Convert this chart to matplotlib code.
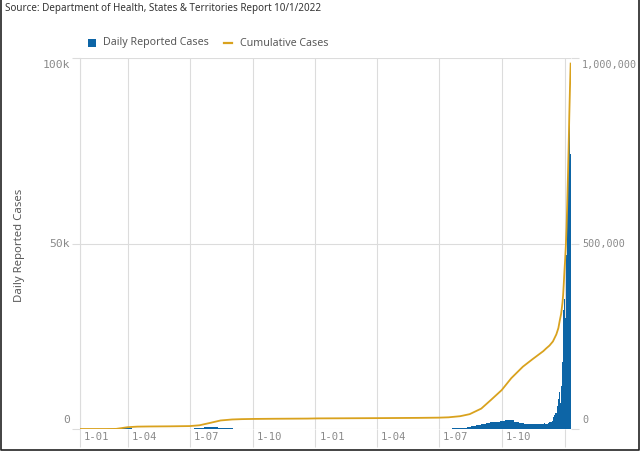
import numpy as np
import pandas as pd
import matplotlib
matplotlib.use("Agg")
import matplotlib.pyplot as plt
import matplotlib.dates as mdates
import matplotlib.transforms as mtrans
from matplotlib.patches import Rectangle
from matplotlib.lines import Line2D

# ---------------- data ----------------
# average daily reported cases per week (weeks starting 2020-01-22)
weekly_start = "2020-01-22"
weekly_cases = [
    1, 1, 1, 0, 1, 3, 10, 40, 200, 370, 250, 100, 40, 15, 15, 15, 12, 10, 10, 8,
    10, 20, 50, 120, 200, 320, 450, 580, 560, 400, 250, 140, 80, 50, 30, 20, 15,
    15, 12, 10, 8, 8, 8, 10, 8, 8, 10, 20, 25, 30,
    25, 15, 10, 8, 8, 10, 8, 8, 10, 12, 12, 15, 12, 10, 12, 15, 10, 10, 8, 8, 15,
    15, 10, 12, 30, 40, 50, 80, 160, 230, 340, 470, 760, 1000, 1400, 1750, 1850,
    1950, 2200, 2400, 2300, 2000, 1750, 1400, 1300, 1250, 1250,
]
# daily reported cases from 2021-12-01 to 2022-01-10
daily_start = "2021-12-01"
daily_cases = [
    1400, 1450, 1500, 1450, 1350, 1300, 1350, 1600, 1700, 1900,
    1800, 1750, 1900, 2200, 2600, 3100, 3700, 4000, 4200, 4300,
    5200, 6300, 8000, 9500, 10000, 7000, 11000, 11500, 18000, 21000, 32000,
    35000, 30000, 37000, 47000, 64000, 72000, 78000, 88000, 80000, 74000,
]
# cumulative cases
cum_dates = [
    "2020-01-22", "2020-03-01", "2020-03-15", "2020-04-01", "2020-04-15", "2020-05-01",
    "2020-06-01", "2020-07-01", "2020-07-15", "2020-08-01", "2020-08-15", "2020-09-01",
    "2020-09-15", "2020-10-01", "2020-11-01", "2020-12-01", "2020-12-20", "2021-01-05",
    "2021-02-01", "2021-04-01", "2021-06-01", "2021-07-01", "2021-07-15", "2021-08-01",
    "2021-08-15", "2021-09-01", "2021-09-15", "2021-10-01", "2021-10-15", "2021-11-01",
    "2021-11-15", "2021-12-01", "2021-12-05", "2021-12-10", "2021-12-15", "2021-12-20",
    "2021-12-23", "2021-12-25", "2021-12-27", "2021-12-29", "2021-12-30", "2021-12-31",
    "2022-01-01", "2022-01-02", "2022-01-03", "2022-01-04", "2022-01-05", "2022-01-06",
    "2022-01-07", "2022-01-08", "2022-01-09", "2022-01-10",
]
cum_cases = [
    0, 30, 300, 4900, 6400, 6800,
    7200, 7900, 10000, 17000, 23000, 25700,
    26600, 27100, 27600, 27900, 28100, 28600,
    28800, 29300, 30000, 30600, 31500, 34500,
    40000, 55000, 78000, 105000, 137000, 168000,
    188000, 210000, 217000, 225000, 236000, 255000,
    272000, 292000, 310000, 340000, 362000, 394000,
    429000, 459000, 496000, 543000, 607000, 679000,
    757000, 845000, 920000, 985000,
]

tick_dates = ["2020-01-22", "2020-04-01", "2020-07-01", "2020-10-01", "2021-01-01",
              "2021-04-01", "2021-07-01", "2021-10-01", "2022-01-01"]
tick_labels = ["1-01", "1-04", "1-07", "1-10", "1-01", "1-04", "1-07", "1-10", ""]
left_ticks = [0, 50000, 100000]
left_labels = ["0", "50k", "100k"]
right_ticks = [0, 500000, 1000000]
right_labels = ["0", "500,000", "1,000,000"]

x_start = "2020-01-22"
x_end = "2022-01-10"

# ---------------- style ----------------
BLUE = "#0d65a6"
GOLD = "#d9a21e"
GRID = "#dcdcdc"
TICKC = "#8a8a8a"
TXT = "#595959"
MONO = "DejaVu Sans Mono"
SANS = "Noto Sans"

W, H = 640, 451
fig = plt.figure(figsize=(W / 100, H / 100), dpi=100)


def fx(x):
    return x / W


def fy(y):
    return 1 - y / H


ax = fig.add_axes([fx(80), fy(429), fx(571) - fx(80), fy(58) - fy(429)])

wdates = mdates.date2num(pd.date_range(weekly_start, periods=len(weekly_cases), freq="7D"))
ddates = mdates.date2num(pd.date_range(daily_start, periods=len(daily_cases), freq="D"))
ax.bar(wdates - 0.5, weekly_cases, width=7, align="edge", color=BLUE, linewidth=0, zorder=2)
ax.bar(ddates - 0.5, daily_cases, width=1, align="edge", color=BLUE, linewidth=0, zorder=2)

x0 = mdates.date2num(pd.Timestamp(x_start))
x1 = mdates.date2num(pd.Timestamp(x_end)) + 0.5
ax.set_xlim(x0, x1)
ax.set_ylim(0, 100000)

ax2 = ax.twinx()
ax2.plot(mdates.date2num(pd.to_datetime(cum_dates)), cum_cases, color=GOLD, lw=1.3,
         solid_joinstyle="round", zorder=3)
ax2.set_ylim(0, 1000000)
ax2.set_xlim(x0, x1)

# grid / spines
for a in (ax, ax2):
    for s in a.spines.values():
        s.set_visible(False)
ax.spines["left"].set_visible(True)
ax.spines["left"].set_color(GRID)
ax.spines["left"].set_linewidth(0.8)

ax.set_xticks(mdates.date2num(pd.to_datetime(tick_dates)))
ax.set_xticklabels(tick_labels, fontfamily=MONO, fontsize=7.6, color=TICKC, ha="left")
ax.grid(True, axis="both", color=GRID, lw=0.8, zorder=0)
ax.set_axisbelow(True)
ax.tick_params(axis="x", length=13, width=0.8, color=GRID, pad=-10.8)
off = mtrans.ScaledTranslation(4 / 100, 0, fig.dpi_scale_trans)
for lab in ax.get_xticklabels():
    lab.set_transform(lab.get_transform() + off)

ax.set_yticks(left_ticks)
ax.set_yticklabels(left_labels, fontfamily=MONO, fontsize=8.2, color=TICKC)
ax.tick_params(axis="y", length=5.8, width=0.8, color=GRID, pad=1.5)
ylabs = ax.get_yticklabels()
ylabs[0].set_va("bottom")
ylabs[0].set_transform(ylabs[0].get_transform() + mtrans.ScaledTranslation(0, 4 / 100, fig.dpi_scale_trans))
ylabs[-1].set_va("top")
ylabs[-1].set_transform(ylabs[-1].get_transform() + mtrans.ScaledTranslation(0, -2 / 100, fig.dpi_scale_trans))

ax2.set_yticks(right_ticks)
ax2.set_yticklabels(right_labels, fontfamily=MONO, fontsize=7.3, color=TICKC)
ax2.tick_params(axis="y", length=5.5, width=0.8, color=GRID, pad=2.5)
rlabs = ax2.get_yticklabels()
rlabs[0].set_va("bottom")
rlabs[0].set_transform(rlabs[0].get_transform() + mtrans.ScaledTranslation(0, 4 / 100, fig.dpi_scale_trans))
rlabs[-1].set_va("top")
rlabs[-1].set_transform(rlabs[-1].get_transform() + mtrans.ScaledTranslation(0, -2 / 100, fig.dpi_scale_trans))

# y label
fig.text(fx(20), fy(245), "Daily Reported Cases", rotation=90, ha="center", va="center",
         fontsize=8.2, color=TXT, fontfamily=SANS)

# source
fig.text(fx(5), fy(9), "Source: Department of Health, States & Territories Report 10/1/2022",
         ha="left", va="center", fontsize=7.1, color="#333333", fontfamily=SANS)

# legend
fig.add_artist(Rectangle((fx(88), fy(47)), fx(8), 8 / H, transform=fig.transFigure,
                         color=BLUE, lw=0))
fig.text(fx(103), fy(43), "Daily Reported Cases", ha="left", va="center", fontsize=7.7,
         color=TXT, fontfamily=SANS)
fig.add_artist(Line2D([fx(224), fx(232)], [fy(43), fy(43)], transform=fig.transFigure,
                      color=GOLD, lw=1.6))
fig.text(fx(240), fy(43), "Cumulative Cases", ha="left", va="center", fontsize=7.7,
         color=TXT, fontfamily=SANS)

# outer frame (left, right, bottom)
fig.add_artist(Line2D([fx(1), fx(1), fx(638.5), fx(638.5)], [fy(0), fy(449.5), fy(449.5), fy(0)],
                      transform=fig.transFigure, color="#222222", lw=1.2))

fig.savefig("out.png", dpi=100)
